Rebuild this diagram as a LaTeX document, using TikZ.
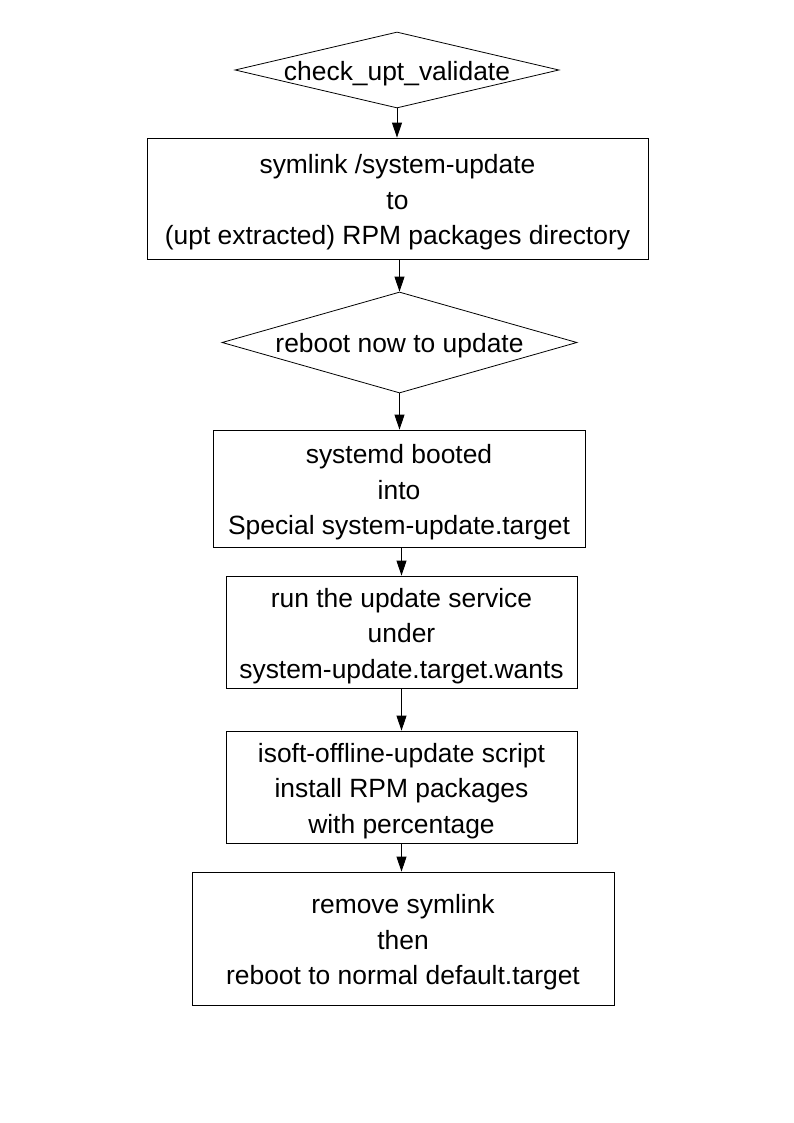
\documentclass[tikz,border=0pt]{standalone}
\usepackage{fontspec}
\setmainfont{Liberation Sans}
\usetikzlibrary{shapes.geometric,arrows.meta}
\newcommand{\toplift}{\rule{0pt}{27pt}}
\newcommand{\dtext}[1]{\smash{\raisebox{-10.4pt}{#1}}}
\begin{document}
\begin{tikzpicture}[x=1pt,y=-1pt,
  every node/.style={font=\fontsize{26.4}{35.5}\selectfont, align=center, inner sep=0pt, line width=0.8pt},
  procbox/.style={draw, rectangle},
  decbox/.style={draw, diamond, aspect=4.26},
  flow/.style={draw, line width=0.9pt, -{Triangle[length=15pt,width=10pt]}}]
\useasboundingbox[fill=white] (0,0) rectangle (794,1123);
\node[decbox, minimum width=324pt, minimum height=76pt] (d1) at (397,70) {\dtext{check\_upt\_validate}};
\node[procbox, minimum width=501pt, minimum height=121pt] (b1) at (397.5,198.5) {\toplift symlink /system-update\\to\\(upt extracted) RPM packages directory};
\node[decbox, minimum width=355pt, minimum height=101pt] (d2) at (399.5,342.5) {\dtext{reboot now to update}};
\node[procbox, minimum width=372pt, minimum height=117pt] (b2) at (399,488.5) {\toplift systemd booted\\into\\Special system-update.target};
\node[procbox, minimum width=351pt, minimum height=112pt] (b3) at (401.5,632) {\toplift run the update service\\under\\system-update.target.wants};
\node[procbox, minimum width=351pt, minimum height=112pt] (b4) at (401.5,787) {\toplift isoft-offline-update script\\install RPM packages\\with percentage};
\node[procbox, minimum width=422pt, minimum height=133pt] (b5) at (403,938.5) {\toplift remove symlink\\then\\reboot to normal default.target};
\draw[flow] (d1.south) -- (d1.south |- b1.north);
\draw[flow] (b1.south -| d2.north) -- (d2.north);
\draw[flow] (d2.south) -- (d2.south |- b2.north);
\draw[flow] (b2.south -| b3.north) -- (b3.north);
\draw[flow] (b3.south) -- (b4.north);
\draw[flow] (b4.south) -- (b4.south |- b5.north);
\end{tikzpicture}
\end{document}
